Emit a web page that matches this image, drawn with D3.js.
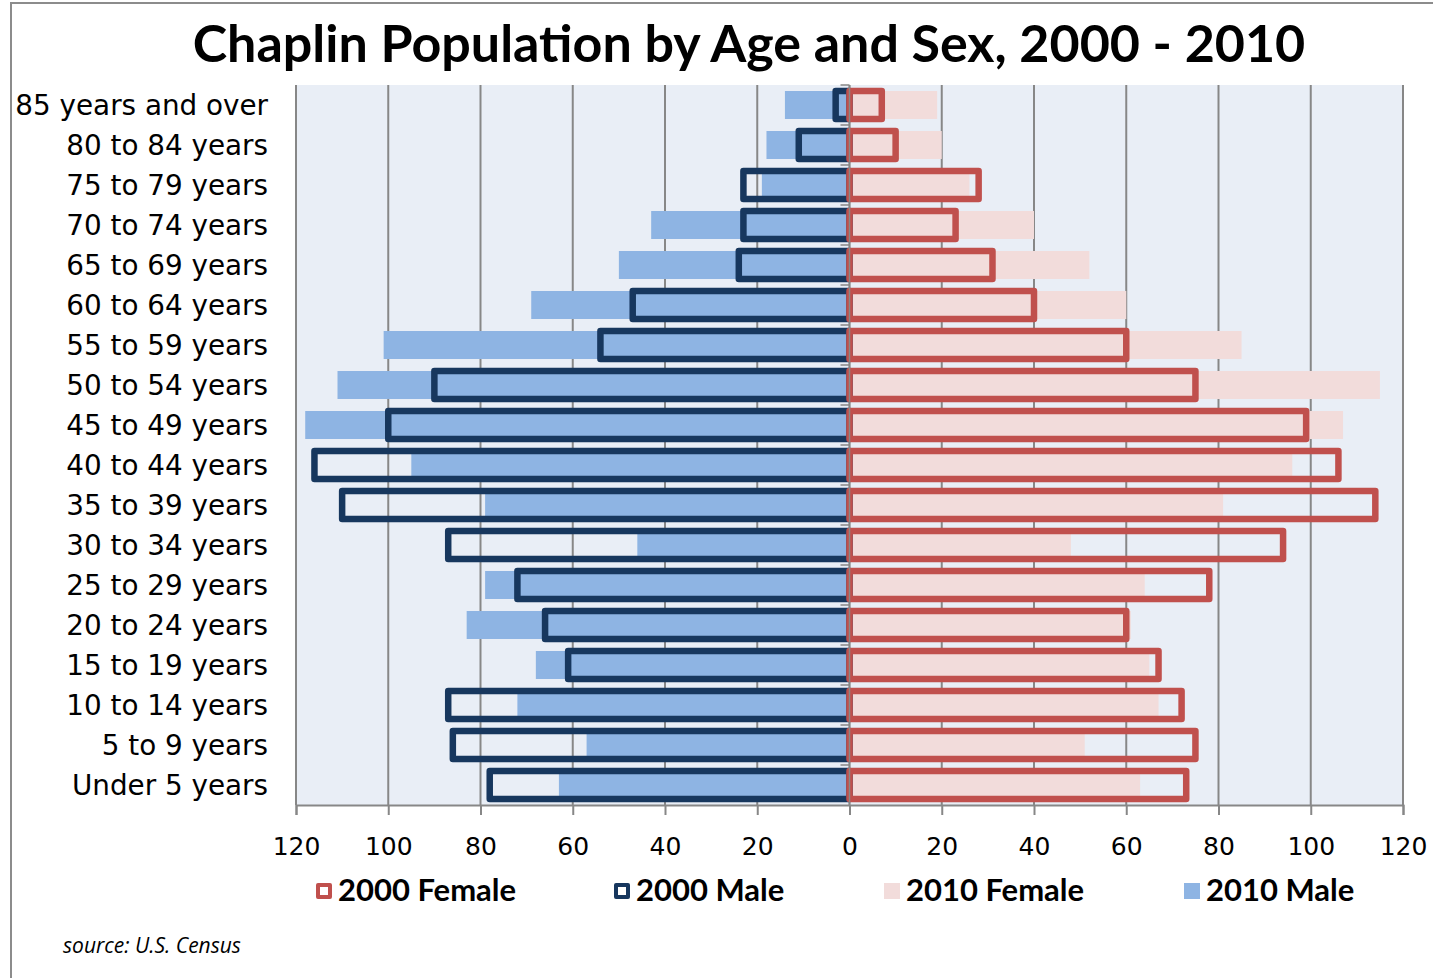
<!DOCTYPE html>
<html>
<head>
<meta charset="utf-8">
<script src="https://cdn.jsdelivr.net/npm/d3@7"></script>
<style>
  body { margin: 0; background: #fff; }
  svg { display: block; }
</style>
</head>
<body>
<div id="chart"></div>
<script>
// age groups, top of the pyramid first
var ageGroups = ["85 years and over", "80 to 84 years", "75 to 79 years", "70 to 74 years",
                 "65 to 69 years", "60 to 64 years", "55 to 59 years", "50 to 54 years",
                 "45 to 49 years", "40 to 44 years", "35 to 39 years", "30 to 34 years",
                 "25 to 29 years", "20 to 24 years", "15 to 19 years", "10 to 14 years",
                 "5 to 9 years", "Under 5 years"];

var male2000   = [3, 11, 23, 23, 24, 47, 54, 90, 100, 116, 110, 87, 72, 66, 61, 87, 86, 78];
var female2000 = [7, 10, 28, 23, 31, 40, 60, 75, 99, 106, 114, 94, 78, 60, 67, 72, 75, 73];
var male2010   = [14, 18, 19, 43, 50, 69, 101, 111, 118, 95, 79, 46, 79, 83, 68, 72, 57, 63];
var female2010 = [19, 20, 26, 40, 52, 60, 85, 115, 107, 96, 81, 48, 64, 61, 65, 67, 51, 63];

var xTicks = [-120, -100, -80, -60, -40, -20, 0, 20, 40, 60, 80, 100, 120];

var legendItems = [
    {label: "2000 Female", kind: "outline", color: "#C0504D"},
    {label: "2000 Male", kind: "outline", color: "#17375E"},
    {label: "2010 Female", kind: "fill", color: "#F2DCDB"},
    {label: "2010 Male", kind: "fill", color: "#8EB4E3"}
];

var W = 1433, H = 978;
var plot = {left: 296, right: 1403, top: 85, bottom: 805};
var labelFont = "'DejaVu Sans', sans-serif";

var svg = d3.select("#chart").append("svg")
    .attr("width", W)
    .attr("height", H);

// chart frame
svg.append("rect")
    .attr("x", 11).attr("y", 3)
    .attr("width", W).attr("height", H)
    .attr("fill", "none")
    .attr("stroke", "#8c8c8c")
    .attr("stroke-width", 2);

var x = d3.scaleLinear()
    .domain([-120, 120])
    .range([plot.left, plot.right]);

var y = d3.scaleBand()
    .domain(ageGroups)
    .range([plot.top, plot.bottom])
    .paddingInner(0.3)
    .paddingOuter(0.15);

var step = y.step();

// plot background
svg.append("rect")
    .attr("x", plot.left).attr("y", plot.top)
    .attr("width", plot.right - plot.left)
    .attr("height", plot.bottom - plot.top)
    .attr("fill", "#E9EEF6");

// vertical gridlines
svg.append("g").selectAll("line")
    .data(xTicks)
    .enter().append("line")
    .attr("x1", function(d) { return x(d); })
    .attr("x2", function(d) { return x(d); })
    .attr("y1", plot.top)
    .attr("y2", plot.bottom)
    .attr("stroke", "#878787")
    .attr("stroke-width", 2);

// bottom axis
var xAxis = svg.append("g")
    .attr("transform", "translate(0," + plot.bottom + ")")
    .call(d3.axisBottom(x)
        .tickValues(xTicks)
        .tickSize(10)
        .tickPadding(22)
        .tickFormat(function(d) { return Math.abs(d); }));
xAxis.select(".domain").attr("stroke", "#878787").attr("stroke-width", 2);
xAxis.selectAll(".tick line").attr("stroke", "#878787").attr("stroke-width", 2);
xAxis.selectAll("text")
    .attr("fill", "#000")
    .style("font-family", labelFont)
    .style("font-size", "25px");

// 2010 filled bars
function indexed(values) {
    return values.map(function(v, i) { return {age: ageGroups[i], value: v}; });
}

svg.append("g").selectAll("rect")
    .data(indexed(male2010))
    .enter().append("rect")
    .attr("x", function(d) { return x(-d.value); })
    .attr("y", function(d) { return y(d.age); })
    .attr("width", function(d) { return x(0) - x(-d.value); })
    .attr("height", y.bandwidth())
    .attr("fill", "#8EB4E3");

svg.append("g").selectAll("rect")
    .data(indexed(female2010))
    .enter().append("rect")
    .attr("x", x(0))
    .attr("y", function(d) { return y(d.age); })
    .attr("width", function(d) { return x(d.value) - x(0); })
    .attr("height", y.bandwidth())
    .attr("fill", "#F2DCDB");

// 2000 outlined bars
svg.append("g").selectAll("rect")
    .data(indexed(male2000))
    .enter().append("rect")
    .attr("x", function(d) { return x(-d.value); })
    .attr("y", function(d) { return y(d.age); })
    .attr("width", function(d) { return x(0) - x(-d.value); })
    .attr("height", y.bandwidth())
    .attr("fill", "none")
    .attr("stroke", "#17375E")
    .attr("stroke-width", 6.5)
    .attr("stroke-linejoin", "round");

svg.append("g").selectAll("rect")
    .data(indexed(female2000))
    .enter().append("rect")
    .attr("x", x(0))
    .attr("y", function(d) { return y(d.age); })
    .attr("width", function(d) { return x(d.value) - x(0); })
    .attr("height", y.bandwidth())
    .attr("fill", "none")
    .attr("stroke", "#C0504D")
    .attr("stroke-width", 6.5)
    .attr("stroke-linejoin", "round");

// category axis at zero, ticks between categories
var zeroAxis = svg.append("g");
zeroAxis.append("line")
    .attr("x1", x(0)).attr("x2", x(0))
    .attr("y1", plot.top).attr("y2", plot.bottom)
    .attr("stroke", "#878787")
    .attr("stroke-width", 1.5);
zeroAxis.selectAll(".cat-tick")
    .data(ageGroups)
    .enter().append("line")
    .attr("class", "cat-tick")
    .attr("x1", x(0) - 9).attr("x2", x(0))
    .attr("y1", function(d) { return y(d) - step * 0.15; })
    .attr("y2", function(d) { return y(d) - step * 0.15; })
    .attr("stroke", "#878787")
    .attr("stroke-width", 1.5);

// category labels, placed at the left of the plot
svg.append("g").selectAll("text")
    .data(ageGroups)
    .enter().append("text")
    .attr("x", 268)
    .attr("y", function(d) { return y(d) + y.bandwidth() / 2; })
    .attr("dy", "0.35em")
    .attr("text-anchor", "end")
    .style("font-family", labelFont)
    .style("font-size", "27.8px")
    .text(function(d) { return d; });

// title
svg.append("text")
    .attr("x", 749)
    .attr("y", 62)
    .attr("text-anchor", "middle")
    .style("font-family", "Lato, sans-serif")
    .style("font-weight", "bold")
    .style("font-size", "52px")
    .text("Chaplin Population by Age and Sex, 2000 - 2010");

// legend
var legendX = [316, 614, 884, 1184];
var legend = svg.append("g").selectAll("g")
    .data(legendItems)
    .enter().append("g")
    .attr("transform", function(d, i) { return "translate(" + legendX[i] + ",883)"; });

legend.append("rect")
    .attr("x", function(d) { return d.kind === "outline" ? 2 : 0; })
    .attr("y", function(d) { return d.kind === "outline" ? 2 : 0; })
    .attr("width", function(d) { return d.kind === "outline" ? 12 : 16; })
    .attr("height", function(d) { return d.kind === "outline" ? 12 : 16; })
    .attr("fill", function(d) { return d.kind === "outline" ? "#fff" : d.color; })
    .attr("stroke", function(d) { return d.kind === "outline" ? d.color : "none"; })
    .attr("stroke-width", 4)
    .attr("stroke-linejoin", "round");

legend.append("text")
    .attr("x", 22)
    .attr("y", 18)
    .style("font-family", "Lato, sans-serif")
    .style("font-weight", "bold")
    .style("font-size", "31px")
    .text(function(d) { return d.label; });

// source note
svg.append("text")
    .attr("x", 63)
    .attr("y", 953)
    .style("font-family", "'Open Sans', sans-serif")
    .style("font-style", "italic")
    .style("font-size", "21px")
    .text("source: U.S. Census");
</script>
</body>
</html>
